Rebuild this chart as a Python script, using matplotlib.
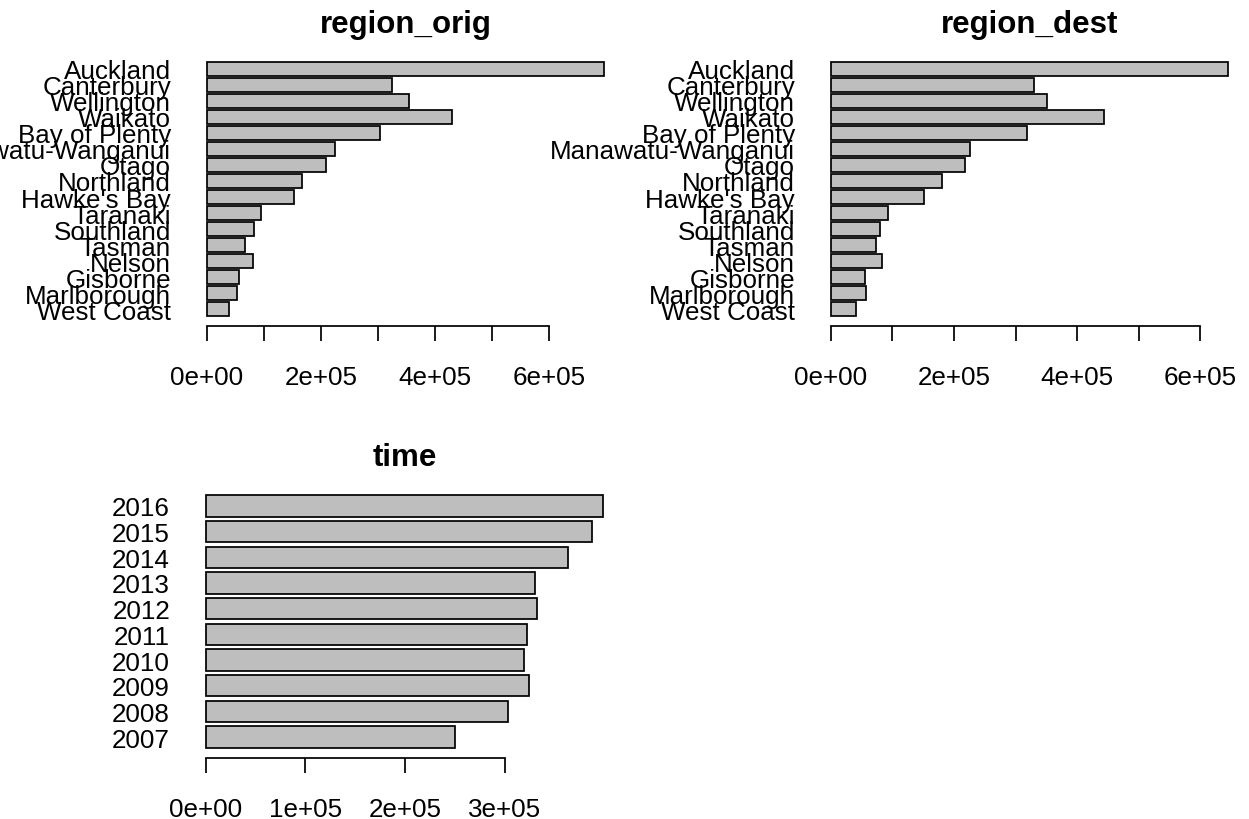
import matplotlib
matplotlib.use("Agg")
import matplotlib.pyplot as plt

# ---- data (top to bottom as displayed) ----
regions = ["Auckland", "Canterbury", "Wellington", "Waikato", "Bay of Plenty",
           "Manawatu-Wanganui", "Otago", "Northland", "Hawke's Bay", "Taranaki",
           "Southland", "Tasman", "Nelson", "Gisborne", "Marlborough", "West Coast"]
orig_values = [696000, 325000, 355000, 429000, 304000, 224000, 208000, 167000,
               153000, 94000, 83000, 67000, 81000, 56000, 53000, 39000]
dest_values = [645000, 330000, 351000, 443000, 318000, 226000, 217000, 181000,
               152000, 92000, 80000, 74000, 83000, 55000, 57000, 40000]
years = ["2016", "2015", "2014", "2013", "2012", "2011", "2010", "2009", "2008", "2007"]
time_values = [399000, 388000, 363500, 331000, 333000, 323000, 320000, 325000,
               303000, 250000]

region_ticks = [0, 100000, 200000, 300000, 400000, 500000, 600000]
region_tick_labels = ["0e+00", "", "2e+05", "", "4e+05", "", "6e+05"]
time_ticks = [0, 100000, 200000, 300000]
time_tick_labels = ["0e+00", "1e+05", "2e+05", "3e+05"]

W, H = 1249, 820
plt.rcParams['font.family'] = ['Liberation Sans', 'DejaVu Sans']
fig = plt.figure(figsize=(W / 100, H / 100), dpi=100)

LW = 1.25


def px_axes(left, top, right, bottom):
    return fig.add_axes([left / W, 1 - bottom / H, (right - left) / W, (bottom - top) / H])


def panel(ax, title, labels, values, ticks, ticklabels):
    n = len(values)
    vals = values[::-1]
    labs = labels[::-1]
    centers = [0.7 + 1.2 * i for i in range(n)]
    ax.barh(centers, vals, height=1.0, color='#BEBEBE', edgecolor='black',
            linewidth=LW)
    ylo, yhi = 0.2, 1.2 * n
    r = yhi - ylo
    ax.set_ylim(ylo - 0.04 * r, yhi + 0.04 * r)
    vmax = max(values)
    ax.set_xlim(-0.04 * vmax, 1.04 * vmax)
    ax.set_yticks(centers)
    ax.set_yticklabels(labs, fontsize=18.7)
    ax.tick_params(axis='y', length=0, pad=14.4)
    ax.set_xticks(ticks)
    ax.set_xticklabels(ticklabels, fontsize=18.7)
    ax.tick_params(axis='x', length=10.8, width=LW, pad=17, direction='out')
    for s in ['left', 'top', 'right']:
        ax.spines[s].set_visible(False)
    ax.spines['bottom'].set_bounds(ticks[0], ticks[-1])
    ax.spines['bottom'].set_linewidth(LW)
    ax.set_title(title, fontsize=22.5, fontweight='bold', pad=14.4)


ax1 = px_axes(191, 53, 620, 327)
panel(ax1, "region_orig", regions, orig_values, region_ticks, region_tick_labels)
ax2 = px_axes(815, 53, 1244, 327)
panel(ax2, "region_dest", regions, dest_values, region_ticks, region_tick_labels)
ax3 = px_axes(190, 486, 619, 759)
panel(ax3, "time", years, time_values, time_ticks, time_tick_labels)

fig.savefig("out.png", dpi=100, facecolor='white')
